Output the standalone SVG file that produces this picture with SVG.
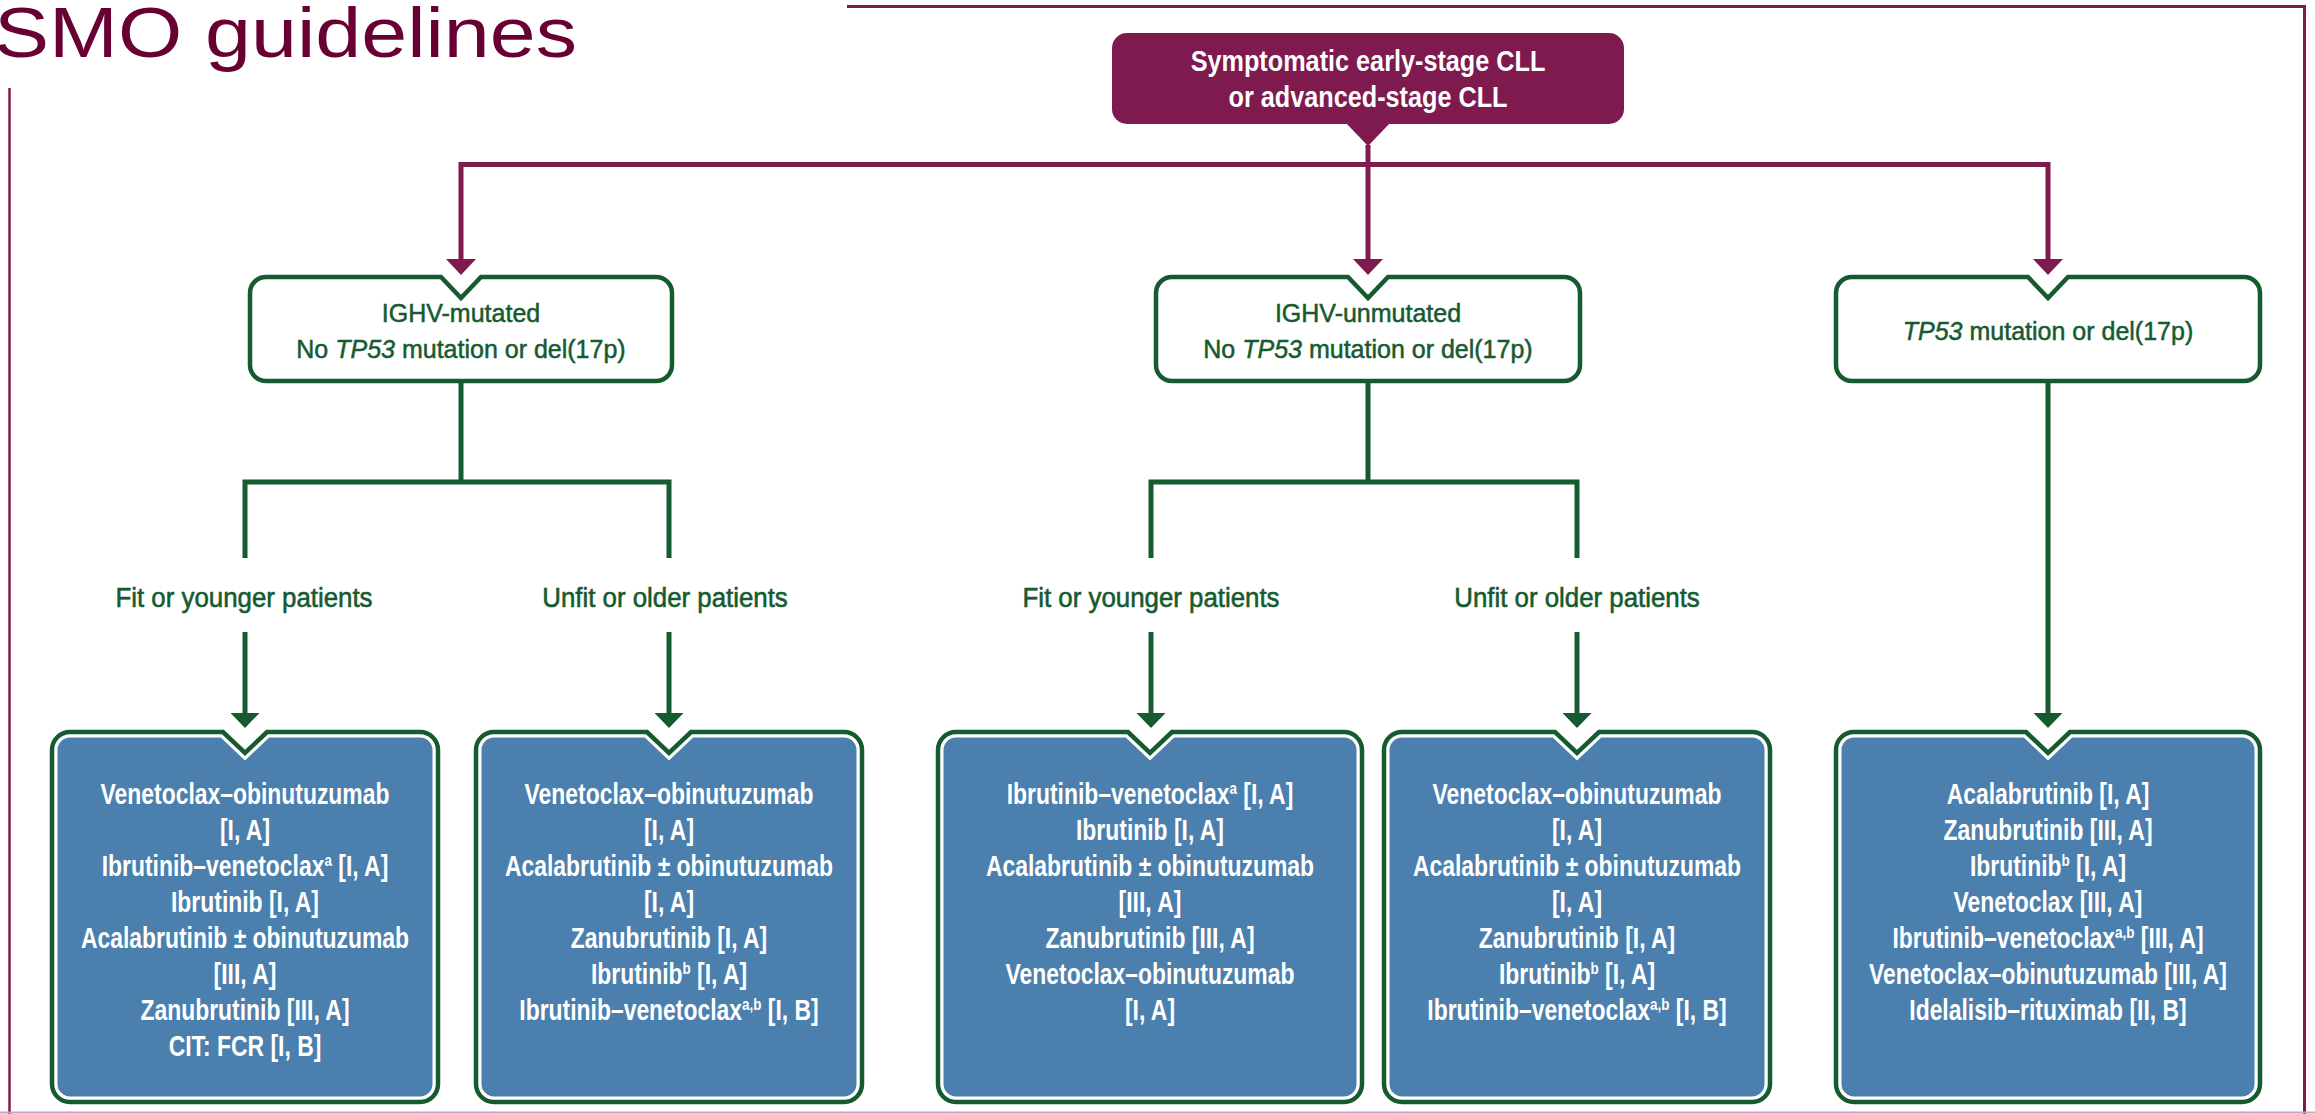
<svg xmlns="http://www.w3.org/2000/svg" width="2315" height="1114" viewBox="0 0 2315 1114">
<defs>
<style>
.title{font-family:"Liberation Sans",Arial,Helvetica,sans-serif;font-size:70px;fill:#680034}
.hdr{font-family:"Liberation Sans",Arial,Helvetica,sans-serif;font-weight:bold;font-size:29px;fill:#ffffff;text-anchor:middle}
.gt{font-family:"Liberation Sans",Arial,Helvetica,sans-serif;font-size:25px;fill:#165a2f;stroke:#165a2f;stroke-width:0.5;text-anchor:middle}
.lbl{font-family:"Liberation Sans",Arial,Helvetica,sans-serif;font-size:28.4px;fill:#165a2f;stroke:#165a2f;stroke-width:0.6;text-anchor:middle}
.bt{font-family:"Liberation Sans",Arial,Helvetica,sans-serif;font-weight:bold;font-size:29px;fill:#ffffff;text-anchor:middle}
.sup{font-size:17px}
.frame{fill:none;stroke:#7e1a4e;stroke-width:3}
.pc{fill:none;stroke:#7e1a4e;stroke-width:5}
.gc{fill:none;stroke:#165a2f;stroke-width:5}
.gbox{fill:#ffffff;stroke:#165a2f;stroke-width:4.5}
.bfill{fill:#4b7fae;stroke:#ffffff;stroke-width:11}
.bedge{fill:none;stroke:#165a2f;stroke-width:4.5}
</style>
<marker id="pa" viewBox="0 0 16 30" refX="6" refY="15" markerWidth="16" markerHeight="30" markerUnits="userSpaceOnUse" orient="auto-start-reverse"><path d="M0,0 L16,15 L0,30 Z" fill="#7e1a4e"/></marker>
<marker id="ga" viewBox="0 0 15 29" refX="5" refY="14.5" markerWidth="15" markerHeight="29" markerUnits="userSpaceOnUse" orient="auto"><path d="M0,0 L15,14.5 L0,29 Z" fill="#165a2f"/></marker>
<path id="b1" d="M70,732 H223 L245,753 L267,732 H420 A18,18 0 0 1 438,750 V1084 A18,18 0 0 1 420,1102 H70 A18,18 0 0 1 52,1084 V750 A18,18 0 0 1 70,732 Z"/>
<path id="b2" d="M494,732 H647 L669,753 L691,732 H844 A18,18 0 0 1 862,750 V1084 A18,18 0 0 1 844,1102 H494 A18,18 0 0 1 476,1084 V750 A18,18 0 0 1 494,732 Z"/>
<path id="b3" d="M956,732 H1128 L1150,753 L1172,732 H1344 A18,18 0 0 1 1362,750 V1084 A18,18 0 0 1 1344,1102 H956 A18,18 0 0 1 938,1084 V750 A18,18 0 0 1 956,732 Z"/>
<path id="b4" d="M1402,732 H1555 L1577,753 L1599,732 H1752 A18,18 0 0 1 1770,750 V1084 A18,18 0 0 1 1752,1102 H1402 A18,18 0 0 1 1384,1084 V750 A18,18 0 0 1 1402,732 Z"/>
<path id="b5" d="M1854,732 H2026 L2048,753 L2070,732 H2242 A18,18 0 0 1 2260,750 V1084 A18,18 0 0 1 2242,1102 H1854 A18,18 0 0 1 1836,1084 V750 A18,18 0 0 1 1854,732 Z"/>
</defs>
<rect x="0" y="0" width="2315" height="1114" fill="#ffffff"/>

<g id="frame">
<path class="frame" d="M847,6.5 H2304.5 V1114"/>
<path d="M9.5,88 V1114" fill="none" stroke="#7e1a4e" stroke-width="2.5"/>
<path d="M0,1112.5 H2315" fill="none" stroke="#c9a3c0" stroke-width="2"/>
</g>

<g id="title">
<g transform="translate(-6 0) scale(1.18 1)"><text class="title" x="0" y="57">SMO guidelines</text></g>
</g>

<g id="start">
<rect x="1112" y="33" width="512" height="91" rx="15" fill="#7e1a4e"/>
<polygon points="1345,122 1391,122 1368,146" fill="#7e1a4e"/>
<g transform="translate(1368 0) scale(0.87 1)">
<text class="hdr" x="0" y="71">Symptomatic early-stage CLL</text>
<text class="hdr" x="0" y="107">or advanced-stage CLL</text>
</g>
</g>

<g id="ighv-mutated">
<path class="gbox" d="M266,277 H441 L461,298 L481,277 H656 A16,16 0 0 1 672,293 V365 A16,16 0 0 1 656,381 H266 A16,16 0 0 1 250,365 V293 A16,16 0 0 1 266,277 Z"/>
<text class="gt" x="461" y="322">IGHV-mutated</text>
<text class="gt" x="461" y="358">No <tspan font-style="italic">TP53</tspan> mutation or del(17p)</text>
</g>

<g id="ighv-unmutated">
<path class="gbox" d="M1172,277 H1348 L1368,298 L1388,277 H1564 A16,16 0 0 1 1580,293 V365 A16,16 0 0 1 1564,381 H1172 A16,16 0 0 1 1156,365 V293 A16,16 0 0 1 1172,277 Z"/>
<text class="gt" x="1368" y="322">IGHV-unmutated</text>
<text class="gt" x="1368" y="358">No <tspan font-style="italic">TP53</tspan> mutation or del(17p)</text>
</g>

<g id="tp53">
<path class="gbox" d="M1852,277 H2028 L2048,298 L2068,277 H2244 A16,16 0 0 1 2260,293 V365 A16,16 0 0 1 2244,381 H1852 A16,16 0 0 1 1836,365 V293 A16,16 0 0 1 1852,277 Z"/>
<text class="gt" x="2048" y="340"><tspan font-style="italic">TP53</tspan> mutation or del(17p)</text>
</g>

<g id="label-fit-1"><g transform="translate(244 0) scale(0.91 1)"><text class="lbl" x="0" y="607">Fit or younger patients</text></g></g>
<g id="label-unfit-1"><g transform="translate(665 0) scale(0.91 1)"><text class="lbl" x="0" y="607">Unfit or older patients</text></g></g>
<g id="label-fit-2"><g transform="translate(1151 0) scale(0.91 1)"><text class="lbl" x="0" y="607">Fit or younger patients</text></g></g>
<g id="label-unfit-2"><g transform="translate(1577 0) scale(0.91 1)"><text class="lbl" x="0" y="607">Unfit or older patients</text></g></g>

<g id="tx-mut-fit">
<use href="#b1" class="bfill"/><use href="#b1" class="bedge"/>
<g transform="translate(245 0) scale(0.79 1)">
<text class="bt" x="0" y="804">Venetoclax–obinutuzumab</text>
<text class="bt" x="0" y="840">[I, A]</text>
<text class="bt" x="0" y="876">Ibrutinib–venetoclax<tspan class="sup" dy="-10">a</tspan><tspan dy="10"> [I, A]</tspan></text>
<text class="bt" x="0" y="912">Ibrutinib [I, A]</text>
<text class="bt" x="0" y="948">Acalabrutinib ± obinutuzumab</text>
<text class="bt" x="0" y="984">[III, A]</text>
<text class="bt" x="0" y="1020">Zanubrutinib [III, A]</text>
<text class="bt" x="0" y="1056">CIT: FCR [I, B]</text>
</g>
</g>

<g id="tx-mut-unfit">
<use href="#b2" class="bfill"/><use href="#b2" class="bedge"/>
<g transform="translate(669 0) scale(0.79 1)">
<text class="bt" x="0" y="804">Venetoclax–obinutuzumab</text>
<text class="bt" x="0" y="840">[I, A]</text>
<text class="bt" x="0" y="876">Acalabrutinib ± obinutuzumab</text>
<text class="bt" x="0" y="912">[I, A]</text>
<text class="bt" x="0" y="948">Zanubrutinib [I, A]</text>
<text class="bt" x="0" y="984">Ibrutinib<tspan class="sup" dy="-10">b</tspan><tspan dy="10"> [I, A]</tspan></text>
<text class="bt" x="0" y="1020">Ibrutinib–venetoclax<tspan class="sup" dy="-10">a,b</tspan><tspan dy="10"> [I, B]</tspan></text>
</g>
</g>

<g id="tx-unmut-fit">
<use href="#b3" class="bfill"/><use href="#b3" class="bedge"/>
<g transform="translate(1150 0) scale(0.79 1)">
<text class="bt" x="0" y="804">Ibrutinib–venetoclax<tspan class="sup" dy="-10">a</tspan><tspan dy="10"> [I, A]</tspan></text>
<text class="bt" x="0" y="840">Ibrutinib [I, A]</text>
<text class="bt" x="0" y="876">Acalabrutinib ± obinutuzumab</text>
<text class="bt" x="0" y="912">[III, A]</text>
<text class="bt" x="0" y="948">Zanubrutinib [III, A]</text>
<text class="bt" x="0" y="984">Venetoclax–obinutuzumab</text>
<text class="bt" x="0" y="1020">[I, A]</text>
</g>
</g>

<g id="tx-unmut-unfit">
<use href="#b4" class="bfill"/><use href="#b4" class="bedge"/>
<g transform="translate(1577 0) scale(0.79 1)">
<text class="bt" x="0" y="804">Venetoclax–obinutuzumab</text>
<text class="bt" x="0" y="840">[I, A]</text>
<text class="bt" x="0" y="876">Acalabrutinib ± obinutuzumab</text>
<text class="bt" x="0" y="912">[I, A]</text>
<text class="bt" x="0" y="948">Zanubrutinib [I, A]</text>
<text class="bt" x="0" y="984">Ibrutinib<tspan class="sup" dy="-10">b</tspan><tspan dy="10"> [I, A]</tspan></text>
<text class="bt" x="0" y="1020">Ibrutinib–venetoclax<tspan class="sup" dy="-10">a,b</tspan><tspan dy="10"> [I, B]</tspan></text>
</g>
</g>

<g id="tx-tp53">
<use href="#b5" class="bfill"/><use href="#b5" class="bedge"/>
<g transform="translate(2048 0) scale(0.79 1)">
<text class="bt" x="0" y="804">Acalabrutinib [I, A]</text>
<text class="bt" x="0" y="840">Zanubrutinib [III, A]</text>
<text class="bt" x="0" y="876">Ibrutinib<tspan class="sup" dy="-10">b</tspan><tspan dy="10"> [I, A]</tspan></text>
<text class="bt" x="0" y="912">Venetoclax [III, A]</text>
<text class="bt" x="0" y="948">Ibrutinib–venetoclax<tspan class="sup" dy="-10">a,b</tspan><tspan dy="10"> [III, A]</tspan></text>
<text class="bt" x="0" y="984">Venetoclax–obinutuzumab [III, A]</text>
<text class="bt" x="0" y="1020">Idelalisib–rituximab [II, B]</text>
</g>
</g>

<g id="connectors">
<path class="pc" d="M461,265 V164.5 H2048 V265" marker-start="url(#pa)" marker-end="url(#pa)"/>
<path class="pc" d="M1368,145 V265" marker-end="url(#pa)"/>
<path class="gc" d="M461,381 V482"/>
<path class="gc" d="M245,558 V482 H669 V558"/>
<path class="gc" d="M1368,381 V482"/>
<path class="gc" d="M1151,558 V482 H1577 V558"/>
<path class="gc" d="M245,632 V718" marker-end="url(#ga)"/>
<path class="gc" d="M669,632 V718" marker-end="url(#ga)"/>
<path class="gc" d="M1151,632 V718" marker-end="url(#ga)"/>
<path class="gc" d="M1577,632 V718" marker-end="url(#ga)"/>
<path class="gc" d="M2048,381 V718" marker-end="url(#ga)"/>
</g>
</svg>
